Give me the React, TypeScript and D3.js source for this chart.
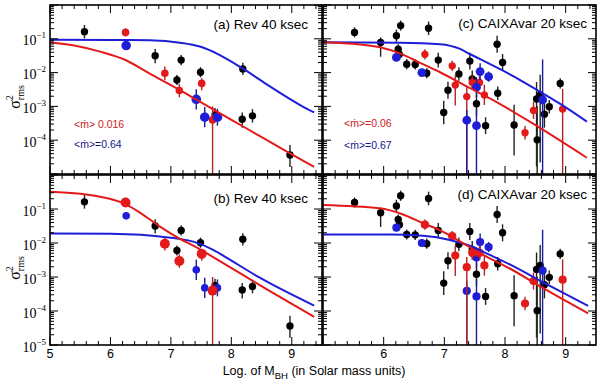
import React from 'react'
import * as d3 from 'd3'

// [log M_BH, log sigma2_rms, err up (dex), err down (dex)]
const revBlack = [
  [5.57, -0.79, 0.2, 0.2],
  [6.74, -1.5, 0.2, 0.22],
  [7.17, -1.63, 0.15, 0.15],
  [7.1, -2.22, 0.15, 0.15],
  [7.49, -1.99, 0.15, 0.15],
  [7.73, -3.25, 0.2, 0.2],
  [8.18, -3.38, 0.2, 0.25],
  [8.35, -3.28, 0.2, 0.2],
  [8.19, -1.89, 0.18, 0.18],
  [8.97, -4.44, 0.3, 0.35],
]
const revRed = [
  [6.25, -0.81, 0.12, 0.12],
  [6.9, -2.02, 0.2, 0.2],
  [7.14, -2.53, 0.2, 0.2],
  [7.51, -2.32, 0.15, 0.2],
  [7.69, -3.4, 0.4, 3],
]
const revBlue = [
  [6.26, -1.2, 0.1, 0.1],
  [7.42, -2.79, 0.3, 0.3],
  [7.56, -3.32, 0.3, 0.3],
  [7.77, -3.32, 0.25, 0.25],
]

const caixaBlack = [
  [5.52, -0.81, 0.15, 0.15],
  [5.95, -1.11, 0.15, 0.42],
  [6.21, -0.91, 0.18, 0.18],
  [6.28, -0.61, 0.15, 0.15],
  [6.74, -0.69, 0.2, 0.2],
  [6.24, -1.31, 0.15, 0.15],
  [6.26, -1.46, 0.15, 0.15],
  [6.38, -1.75, 0.15, 0.15],
  [6.52, -1.76, 0.15, 0.15],
  [6.71, -2.02, 0.15, 0.15],
  [6.9, -1.63, 0.22, 0.22],
  [7.24, -2.04, 0.2, 0.2],
  [7.06, -2.52, 0.25, 0.25],
  [6.99, -3.18, 0.35, 0.35],
  [7.42, -1.66, 0.25, 0.25],
  [7.46, -2.19, 0.25, 0.25],
  [7.53, -2.92, 0.35, 0.35],
  [7.68, -3.57, 0.25, 0.25],
  [7.87, -1.16, 0.25, 0.25],
  [7.96, -1.7, 0.25, 0.25],
  [7.88, -2.61, 0.2, 0.2],
  [8.15, -3.55, 0.6, 0.9],
  [8.53, -3.99, 1.0, 2],
  [8.52, -2.78, 0.5, 2],
  [8.58, -2.66, 0.6, 2],
  [8.65, -3.23, 0.4, 0.4],
  [8.73, -3.01, 0.2, 0.2],
  [8.91, -2.32, 0.15, 0.15],
]
const caixaRed = [
  [6.68, -1.46, 0.15, 0.15],
  [7.13, -1.8, 0.15, 0.15],
  [7.18, -2.37, 0.3, 0.6],
  [7.37, -2.71, 0.3, 3],
  [7.46, -2.29, 0.2, 0.2],
  [7.58, -2.29, 0.2, 0.2],
  [7.66, -2.66, 0.3, 0.3],
  [8.47, -3.12, 0.25, 0.25],
  [8.33, -3.78, 0.2, 0.2],
  [8.95, -3.08, 0.6, 3],
]
const caixaBlue = [
  [6.21, -1.55, 0.1, 0.1],
  [6.63, -2.0, 0.1, 0.1],
  [7.59, -1.97, 0.25, 0.25],
  [7.73, -2.12, 0.15, 0.15],
  [7.53, -2.43, 0.3, 0.3],
  [7.37, -3.41, 0.3, 3],
  [7.53, -3.57, 0.5, 3],
  [8.62, -2.81, 1.2, 3],
]

// model curves [log M, log sigma2]
const fitA_blue = [[5, -1.03], [6, -1.035], [6.65, -1.045], [7.15, -1.115], [7.48, -1.23], [7.81, -1.48], [8.18, -1.87], [8.58, -2.34], [9.14, -2.96], [9.37, -3.18]]
const fitA_red = [[5, -1.1], [5.4, -1.2], [5.83, -1.38], [6.24, -1.62], [6.65, -2.03], [7.15, -2.52], [7.42, -2.8], [7.7, -3.09], [8.18, -3.58], [8.97, -4.39], [9.37, -4.79]]
const fitB_blue = [[5, -1.72], [6, -1.73], [6.5, -1.76], [6.82, -1.81], [7.15, -1.88], [7.37, -1.96], [7.7, -2.2], [7.92, -2.43], [8.47, -3.02], [9.37, -3.84]]
const fitB_red = [[5, -0.49], [5.5, -0.55], [5.83, -0.64], [6.24, -0.85], [6.5, -1.12], [6.82, -1.52], [7.15, -1.88], [7.37, -2.08], [7.92, -2.65], [8.47, -3.24], [9.37, -4.17]]
const fitC_blue = [[5, -1.1], [6.27, -1.115], [6.93, -1.16], [7.26, -1.3], [7.42, -1.45], [7.59, -1.6], [7.92, -1.9], [8.25, -2.22], [8.58, -2.57], [9.02, -3.05], [9.35, -3.45]]
const fitC_red = [[5, -1.1], [5.5, -1.15], [5.94, -1.25], [6.27, -1.43], [6.6, -1.71], [6.93, -1.99], [7.37, -2.41], [7.92, -2.93], [8.47, -3.52], [9.35, -4.52]]
const fitD_blue = [[5, -1.75], [6.1, -1.75], [6.65, -1.79], [7.09, -1.91], [7.42, -2.08], [7.75, -2.35], [8.08, -2.63], [8.63, -3.16], [9.37, -3.85]]
const fitD_red = [[5, -0.88], [5.93, -0.98], [6.32, -1.16], [6.65, -1.42], [6.98, -1.67], [7.31, -2.01], [7.64, -2.35], [8.08, -2.75], [8.63, -3.33], [9.37, -4.07]]

const xTicksLeft = [5, 6, 7, 8, 9]
const xTicksRight = [6, 7, 8, 9]
const yDecadesTop = [-1, -2, -3, -4]
const yDecadesBottom = [-1, -2, -3, -4, -5]

const RED = '#e41a1a'
const BLUE = '#1e1ed8'
const RED_ERR = '#b42222'
const BLUE_ERR = '#1a1a9c'

const cols = [{ x0: 50, x1: 322 }, { x0: 323, x1: 596 }]
const rows = [{ y0: 5, y1: 174 }, { y0: 175, y1: 345 }]

const panels = [
  { id: 'a', col: 0, row: 0, black: revBlack, red: revRed, blue: revBlue, rBig: 'blue', rr: 3.8, rb: 4.8, fitBlue: fitA_blue, fitRed: fitA_red, title: '(a) Rev 40 ksec', tx: 308, ty: 29, notes: [{ t: '<ṁ>  0.016', c: '#cc1a1a', x: 74, y: 128 }, { t: '<ṁ>=0.64', c: '#14148c', x: 74, y: 148 }] },
  { id: 'b', col: 0, row: 1, black: revBlack, red: revRed, blue: revBlue, rBig: 'red', rr: 5, rb: 3.8, fitBlue: fitB_blue, fitRed: fitB_red, title: '(b) Rev 40 ksec', tx: 308, ty: 203, notes: [] },
  { id: 'c', col: 1, row: 0, black: caixaBlack, red: caixaRed, blue: caixaBlue, rBig: 'blue', rr: 3.7, rb: 4.4, fitBlue: fitC_blue, fitRed: fitC_red, title: '(c) CAIXAvar 20 ksec', tx: 587, ty: 28, notes: [{ t: '<ṁ>=0.06', c: '#cc1a1a', x: 344, y: 127 }, { t: '<ṁ>=0.67', c: '#14148c', x: 344, y: 149 }] },
  { id: 'd', col: 1, row: 1, black: caixaBlack, red: caixaRed, blue: caixaBlue, rBig: 'red', rr: 4.1, rb: 4.1, fitBlue: fitD_blue, fitRed: fitD_red, title: '(d) CAIXAvar 20 ksec', tx: 587, ty: 199, notes: [] },
]

function Panel({ p }: { p: any }) {
  const c = cols[p.col]
  const r = rows[p.row]
  const x = d3.scaleLinear().domain([5, 9.5]).range([c.x0, c.x1])
  const y = d3.scaleLog().domain([1e-5, 1]).range([r.y1, r.y0])
  const ly = (v: number) => y(Math.pow(10, v))
  const line = d3.line<number[]>()
    .x(d => x(d[0]))
    .y(d => ly(d[1]))
    .curve(d3.curveMonotoneX)

  const xMinor = d3.range(25, 48).map(i => ({ v: i / 5, major: i % 5 === 0 }))
  const yMinor: { v: number, major: boolean }[] = []
  for (let d = -5; d <= -1; d++) {
    for (let k = 1; k <= 9; k++) yMinor.push({ v: k * Math.pow(10, d), major: k === 1 })
  }
  yMinor.push({ v: 1, major: true })

  const clip = 'clip-' + p.id
  const pts = (arr: number[][], fill: string, err: string, rad: number) => (
    <g>
      {arr.map((d, i) => (
        <line key={'e' + i} x1={x(d[0])} x2={x(d[0])} y1={ly(d[1] + d[2])} y2={ly(d[1] - d[3])} stroke={err} strokeWidth={1.4} />
      ))}
      {arr.map((d, i) => (
        <circle key={'c' + i} cx={x(d[0])} cy={ly(d[1])} r={rad} fill={fill} />
      ))}
    </g>
  )

  const isLeft = p.col === 0
  const isBottom = p.row === 1
  const decades = isBottom ? yDecadesBottom : yDecadesTop
  const xLabels = isLeft ? xTicksLeft : xTicksRight

  return (
    <g>
      <defs>
        <clipPath id={clip}>
          <rect x={c.x0} y={r.y0} width={c.x1 - c.x0} height={r.y1 - r.y0} />
        </clipPath>
      </defs>
      <g clipPath={`url(#${clip})`}>
        {pts(p.black, '#000', '#222', 3.7)}
        {p.rBig === 'blue' ? pts(p.red, RED, RED_ERR, p.rr) : pts(p.blue, BLUE, BLUE_ERR, p.rb)}
        {p.rBig === 'blue' ? pts(p.blue, BLUE, BLUE_ERR, p.rb) : pts(p.red, RED, RED_ERR, p.rr)}
        <path d={line(p.fitBlue) || ''} fill="none" stroke={BLUE} strokeWidth={2} />
        <path d={line(p.fitRed) || ''} fill="none" stroke={RED} strokeWidth={2} />
      </g>
      {/* ticks on all four sides, inward */}
      <g stroke="#000" strokeWidth={1}>
        {xMinor.map((t, i) => {
          const L = t.major ? 8 : 4
          const px = x(t.v)
          return (
            <g key={'xt' + i}>
              <line x1={px} x2={px} y1={r.y1} y2={r.y1 - L} />
              <line x1={px} x2={px} y1={r.y0} y2={r.y0 + L} />
            </g>
          )
        })}
        {yMinor.map((t, i) => {
          const L = t.major ? 8 : 4
          const py = y(t.v)
          return (
            <g key={'yt' + i}>
              <line x1={c.x0} x2={c.x0 + L} y1={py} y2={py} />
              <line x1={c.x1} x2={c.x1 - L} y1={py} y2={py} />
            </g>
          )
        })}
      </g>
      <rect x={c.x0} y={r.y0} width={c.x1 - c.x0} height={r.y1 - r.y0} fill="none" stroke="#000" strokeWidth={1.6} />
      <text x={p.tx} y={p.ty} textAnchor="end" fontFamily="Liberation Sans, Arial, sans-serif" fontSize={13.5}>{p.title}</text>
      {p.notes.map((n: any, i: number) => (
        <text key={i} x={n.x} y={n.y} fill={n.c} fontFamily="Liberation Sans, Arial, sans-serif" fontSize={10.5}>{n.t}</text>
      ))}
      {isLeft && decades.map(dv => (
        <text key={'yl' + dv} x={c.x0 - 4} y={ly(dv) + 6.5} textAnchor="end" fontFamily="Liberation Serif, Times New Roman, serif" fontSize={14}>
          10<tspan dy={-7} fontSize={9}>{'\u2212' + Math.abs(dv)}</tspan>
        </text>
      ))}
      {isBottom && xLabels.map(v => (
        <text key={'xl' + v} x={x(v)} y={358} textAnchor="middle" fontFamily="Liberation Sans, Arial, sans-serif" fontSize={12.5}>{v}</text>
      ))}
    </g>
  )
}

function YLabel({ cy }: { cy: number }) {
  return (
    <text transform={`translate(20,${cy}) rotate(-90)`} textAnchor="middle" fontFamily="Liberation Serif, Times New Roman, serif" fontSize={16}>
      σ<tspan dy={-7} fontSize={10}>2</tspan><tspan dx={-5} dy={11} fontSize={10}>rms</tspan>
    </text>
  )
}

export default function App() {
  return (
    <svg width={600} height={385} style={{ position: 'absolute', left: 0, top: 0, background: '#fff' }}>
      <rect x={0} y={0} width={600} height={385} fill="#fff" />
      {panels.map(p => <Panel key={p.id} p={p} />)}
      <YLabel cy={97} />
      <YLabel cy={268} />
      <text x={314} y={375} textAnchor="middle" fontFamily="Liberation Sans, Arial, sans-serif" fontSize={12.5}>
        Log. of M<tspan dy={3.5} fontSize={9.5}>BH</tspan><tspan dy={-3.5}> (in Solar mass units)</tspan>
      </text>
    </svg>
  )
}
